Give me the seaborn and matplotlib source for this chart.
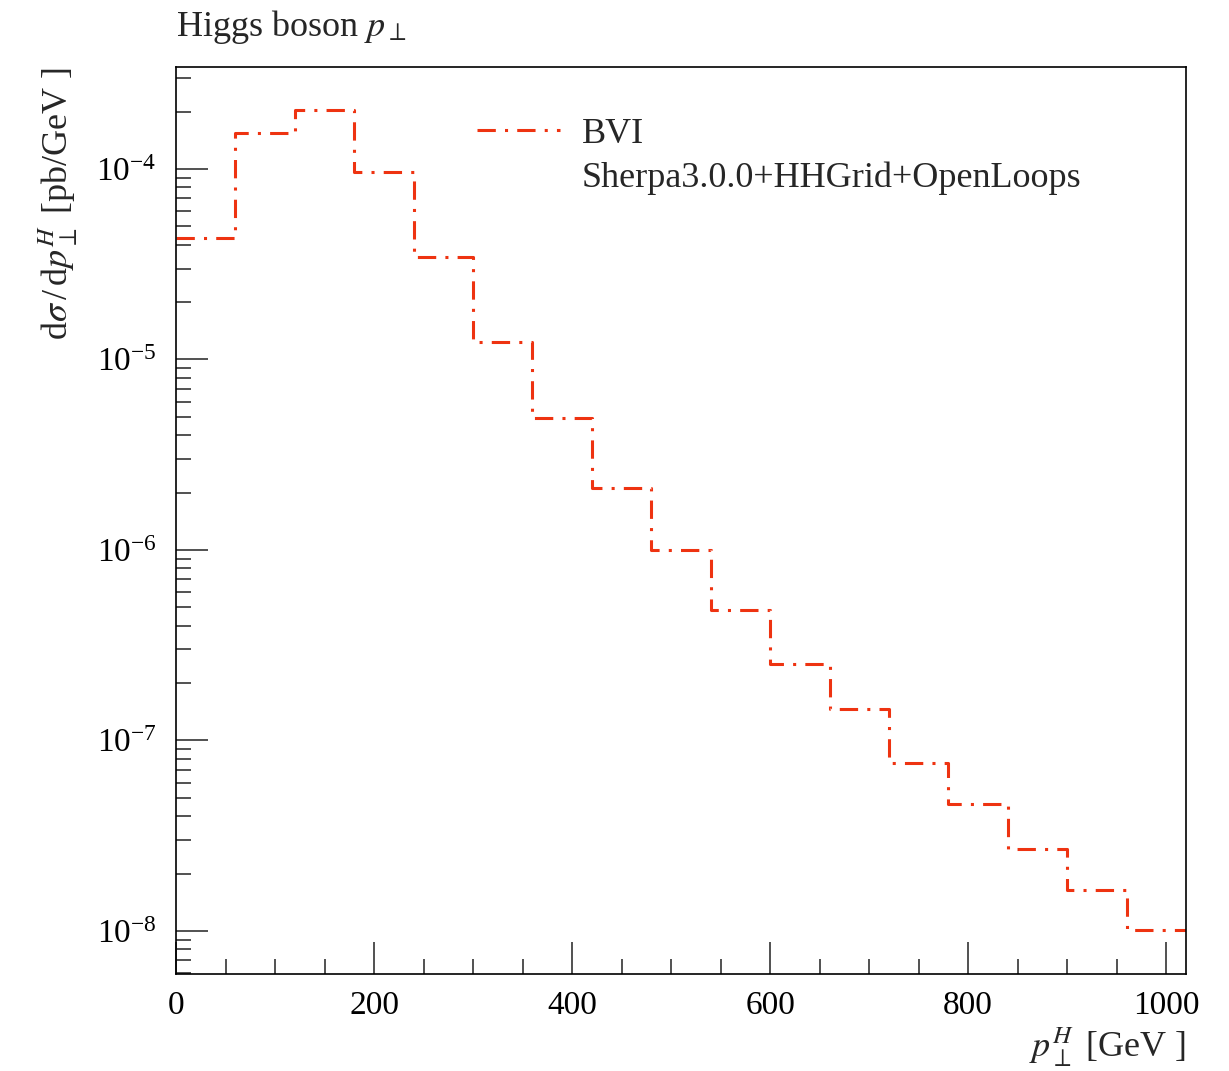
import numpy as np
import matplotlib
matplotlib.use("Agg")
import matplotlib.pyplot as plt
from matplotlib.lines import Line2D
from matplotlib.ticker import LogLocator, MultipleLocator
import seaborn as sns

# Higgs pT spectrum, 60 GeV bins
bin_edges = [0, 60, 120, 180, 240, 300, 360, 420, 480, 540, 600,
             660, 720, 780, 840, 900, 960, 1020]
xsec = [4.34e-5, 1.545e-4, 2.04e-4, 9.6e-5, 3.45e-5, 1.236e-5, 4.93e-6,
        2.11e-6, 1.0e-6, 4.84e-7, 2.52e-7, 1.46e-7, 7.62e-8, 4.64e-8,
        2.69e-8, 1.64e-8, 1.01e-8]
label = "BVI"
generator = "Sherpa3.0.0+HHGrid+OpenLoops"

sns.set_style("ticks")
plt.rcParams["font.family"] = ["Liberation Serif", "DejaVu Serif"]
plt.rcParams["mathtext.fontset"] = "stix"

centers = [(a + b) / 2 for a, b in zip(bin_edges[:-1], bin_edges[1:])]
red = "#ee3311"

fig = plt.figure(figsize=(12.29, 10.71), dpi=100)
ax = fig.add_axes([0.1432, 0.0906, 0.8218, 0.8469])

sns.histplot(x=centers, weights=xsec, bins=bin_edges, element="step",
             fill=False, color=red, linewidth=2.2, dashes=(6, 3, 1, 3), ax=ax)

ax.set_yscale("log")
ax.set_xlim(0, 1020)
ax.set_ylim(5.94e-9, 3.43e-4)

ax.xaxis.set_major_locator(MultipleLocator(200))
ax.xaxis.set_minor_locator(MultipleLocator(50))
ax.yaxis.set_major_locator(LogLocator(base=10, numticks=20))
ax.yaxis.set_minor_locator(LogLocator(base=10, subs=np.arange(2, 10), numticks=20))

ax.tick_params(which="both", direction="in", top=False, right=False,
               labelsize=24, color="#333333", labelcolor="black")
ax.tick_params(axis="x", which="major", length=23, width=1.2, pad=12)
ax.tick_params(axis="x", which="minor", length=11, width=1.2)
ax.tick_params(axis="y", which="major", length=23, width=1.2, pad=14)
ax.tick_params(axis="y", which="minor", length=11, width=1.2)
for s in ax.spines.values():
    s.set_linewidth(1.2)
    s.set_color("black")

ax.set_xlabel(r"$p_\perp^H$ [GeV ]", loc="right", fontsize=26, labelpad=3)
ax.set_ylabel(r"d$\sigma\,$/$\,$d$p_\perp^H$ [pb/GeV ]", loc="top",
              fontsize=26, labelpad=12)
ax.set_title(r"Higgs boson $p_\perp$", loc="left", fontsize=26, pad=22)

handles = [Line2D([], [], color=red, linewidth=2.2, dashes=(6, 3, 1, 3)),
           Line2D([], [], alpha=0)]
ax.legend(handles, [label, generator], loc="upper left",
          bbox_to_anchor=(0.266, 0.98), frameon=False, fontsize=26,
          handlelength=2.3, handletextpad=0.6, labelspacing=0.3)

fig.savefig("out.png", dpi=100)
